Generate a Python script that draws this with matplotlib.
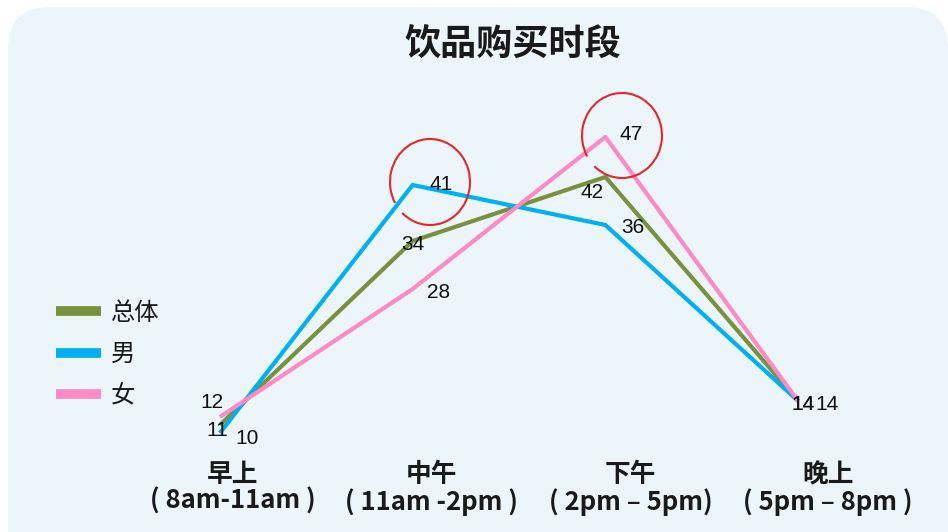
import matplotlib
matplotlib.use("Agg")
import matplotlib.pyplot as plt
import matplotlib.transforms as mtransforms
from matplotlib.patches import FancyBboxPatch, Arc
from matplotlib.lines import Line2D

plt.rcParams['font.family'] = ['Noto Sans CJK SC', 'DejaVu Sans']

# ---- data ----
title = "饮品购买时段"
categories = ["早上\n( 8am-11am )", "中午\n( 11am -2pm )", "下午\n( 2pm – 5pm)", "晚上\n( 5pm – 8pm )"]
series_names = ["总体", "男", "女"]
total_vals = [11, 34, 42, 14]
male_vals = [10, 41, 36, 14]
female_vals = [12, 28, 47, 14]

colors = ["#76923C", "#00B0F0", "#FF88C6"]

W, H = 948, 532
fig = plt.figure(figsize=(W / 100, H / 100), dpi=100)
fig.patch.set_facecolor("white")

# rounded background panel (pixel coordinates)
bg = FancyBboxPatch((8, -60), 940, H - 7 + 60,
                    boxstyle="round,pad=0,rounding_size=42",
                    transform=mtransforms.IdentityTransform(),
                    facecolor="#ECF5F9", edgecolor="none", zorder=-5)
fig.patches.append(bg)

ax = fig.add_axes([123.5 / W, 75 / H, 771 / W, 344 / H])
ax.set_zorder(2)
ax.set_facecolor("none")
for s in ax.spines.values():
    s.set_visible(False)

x = list(range(len(categories)))
all_vals = [total_vals, male_vals, female_vals]
for vals, c, name in zip(all_vals, colors, series_names):
    ax.plot(x, vals, color=c, lw=3.0, solid_capstyle="butt", label=name, zorder=3)

ax.set_xlim(-0.5, 3.5)
ax.set_ylim(7, 50)
ax.set_yticks([])
ax.set_xticks(x)
ax.set_xticklabels(categories, fontsize=18.5, fontweight="bold", color="#1a1a1a", linespacing=1.0)
ax.tick_params(axis="x", length=0, pad=3)
label_shift_px = [13, 19, 25, 30]
for lbl, sh in zip(ax.get_xticklabels(), label_shift_px):
    lbl.set_transform(lbl.get_transform() +
                      mtransforms.ScaledTranslation(sh / 100, 0, fig.dpi_scale_trans))

# data labels (offsets in pixels, styling only)
offsets = {
    0: [(-3, -5), (27, -5), (-8, 15)],
    1: [(0, -3), (28, 1), (26, -3)],
    2: [(-13, -15), (27, -2), (26, 3)],
    3: [(5, -4), (29, -4), (5, -4)],
}
for si, vals in enumerate(all_vals):
    for i, v in enumerate(vals):
        dx, dy = offsets[i][si]
        ax.annotate(str(v), (x[i], v), xytext=(dx, dy), textcoords="offset pixels",
                    ha="center", va="center", fontsize=15, color="#111111",
                    family="Liberation Sans", zorder=5)

# hand-drawn style red circles (pixel coordinates)
for (cx, cy, rx, ry, t1, t2) in [(430, 182, 40, 43, 228, 571), (622, 135.5, 40, 42.5, 228, 571)]:
    arc = Arc((cx, H - cy), 2 * rx, 2 * ry, theta1=t1, theta2=t2,
              transform=mtransforms.IdentityTransform(), color="#E8262A", lw=1.5, zorder=6)
    fig.patches.append(arc)

fig.text(513 / W, 1 - 45 / H, title, ha="center", va="center", fontsize=26,
         fontweight="bold", color="#1a1a1a")

handles = [Line2D([0], [0], color=c, lw=7, solid_capstyle="butt") for c in colors]
leg = fig.legend(handles, series_names, loc="upper left",
                 bbox_to_anchor=(56 / W, 1 - 300 / H), frameon=False,
                 prop={"size": 17.5, "weight": "medium"},
                 handlelength=1.85, handletextpad=0.4,
                 labelspacing=0.62, borderaxespad=0, borderpad=0)
for t in leg.get_texts():
    t.set_color("#1a1a1a")

fig.savefig("out.png", dpi=100, facecolor="white")
